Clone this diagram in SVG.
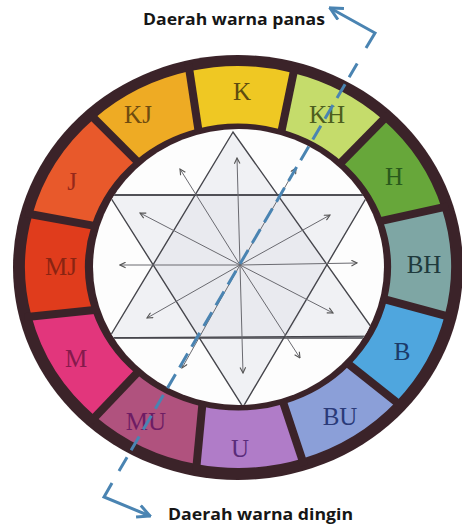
<svg xmlns="http://www.w3.org/2000/svg" width="462" height="527" viewBox="0 0 462 527">
<style>
.seg path{stroke:none}
.lbl{font-family:"Liberation Serif","DejaVu Serif",serif;font-size:25px;text-anchor:middle}
.sep line{stroke:#3b2329;stroke-width:8;stroke-linecap:butt}
.star{fill:none;stroke:#46464c;stroke-width:1.4}
.arr line{stroke:#6a6a70;stroke-width:1}
.cap{font-family:"Open Sans","Liberation Sans",sans-serif;font-weight:bold;font-size:16px;fill:#161616}
.blue{fill:none;stroke:#4a84b2;stroke-width:3}
</style>
<defs>
<clipPath id="disc"><ellipse cx="238.5" cy="267" rx="145.5" ry="138"/></clipPath>
<marker id="ah" viewBox="0 0 10 10" refX="9" refY="5" markerWidth="7" markerHeight="7" markerUnits="userSpaceOnUse" orient="auto">
<path d="M1,1 L9,5 L1,9" fill="none" stroke="#555" stroke-width="1.6"/>
</marker>
<marker id="bh" viewBox="0 0 12 12" refX="11" refY="6" markerWidth="15" markerHeight="15" markerUnits="userSpaceOnUse" orient="auto">
<path d="M1,1 L11,6 L1,11" fill="none" stroke="#4a84b2" stroke-width="2.4"/>
</marker>
</defs>
<rect width="462" height="527" fill="#ffffff"/>
<g id="ring"><ellipse cx="238" cy="267.5" rx="225" ry="212.5" fill="#3b2329"/></g>
<g id="seg-K" class="seg"><path fill="#efc823" d="M190.1,71.1 A213,201 0 0 1 293.1,72.9 L282.7,129.8 A153,143.5 0 0 0 197.1,128.7 Z"/><text class="lbl" x="242" y="100" fill="#5e4c10">K</text></g>
<g id="seg-KH" class="seg"><path fill="#c5dc6b" d="M293.1,72.9 A213,201 0 0 1 383.3,120 L342.3,162 A153,143.5 0 0 0 282.7,129.8 Z"/><text class="lbl" x="327" y="123" fill="#4d5e1e">KH</text></g>
<g id="seg-H" class="seg"><path fill="#67a73a" d="M383.3,120 A213,201 0 0 1 441.7,208.2 L382.7,220.3 A153,143.5 0 0 0 342.3,162 Z"/><text class="lbl" x="394" y="185" fill="#2a5a1c">H</text></g>
<g id="seg-BH" class="seg"><path fill="#7ea6a4" d="M441.7,208.2 A213,201 0 0 1 444.7,315.6 L387.1,299.3 A153,143.5 0 0 0 382.7,220.3 Z"/><text class="lbl" x="424" y="273" fill="#1f3a3c">BH</text></g>
<g id="seg-B" class="seg"><path fill="#4fa6de" d="M444.7,315.6 A213,201 0 0 1 396.3,401.5 L349.9,364.9 A153,143.5 0 0 0 387.1,299.3 Z"/><text class="lbl" x="402" y="360" fill="#1c3a68">B</text></g>
<g id="seg-BU" class="seg"><path fill="#8b9fd8" d="M396.3,401.5 A213,201 0 0 1 302,458.7 L284,403.9 A153,143.5 0 0 0 349.9,364.9 Z"/><text class="lbl" x="340" y="425" fill="#2a3a78">BU</text></g>
<g id="seg-U" class="seg"><path fill="#b07cc8" d="M302,458.7 A213,201 0 0 1 197.4,464.3 L201,406.2 A153,143.5 0 0 0 284,403.9 Z"/><text class="lbl" x="240" y="457" fill="#5a2c7a">U</text></g>
<g id="seg-MU" class="seg"><path fill="#b0527e" d="M197.4,464.3 A213,201 0 0 1 95.5,416.4 L135.6,373.6 A153,143.5 0 0 0 201,406.2 Z"/><text class="lbl" x="146" y="430" fill="#6e1c64">MU</text></g>
<g id="seg-M" class="seg"><path fill="#e2367c" d="M95.5,416.4 A213,201 0 0 1 31.3,315.6 L92.5,311.3 A153,143.5 0 0 0 135.6,373.6 Z"/><text class="lbl" x="76" y="367" fill="#851a4c">M</text></g>
<g id="seg-MJ" class="seg"><path fill="#e03c1c" d="M31.3,315.6 A213,201 0 0 1 32.3,215 L91.7,225 A153,143.5 0 0 0 92.5,311.3 Z"/><text class="lbl" x="61" y="275" fill="#8a2412">MJ</text></g>
<g id="seg-J" class="seg"><path fill="#e8592b" d="M32.3,215 A213,201 0 0 1 94.1,118.8 L135.6,160.4 A153,143.5 0 0 0 91.7,225 Z"/><text class="lbl" x="72" y="190" fill="#96281a">J</text></g>
<g id="seg-KJ" class="seg"><path fill="#eeab24" d="M94.1,118.8 A213,201 0 0 1 190.1,71.1 L197.1,128.7 A153,143.5 0 0 0 135.6,160.4 Z"/><text class="lbl" x="138" y="123" fill="#6e4c10">KJ</text></g>
<g id="separators" class="sep">
<line x1="199" y1="134" x2="188.5" y2="64.3"/>
<line x1="280.7" y1="135" x2="294.9" y2="66.1"/>
<line x1="337.6" y1="166.1" x2="388" y2="114.9"/>
<line x1="376" y1="222.1" x2="448.4" y2="206.2"/>
<line x1="380.3" y1="298.1" x2="451.5" y2="317.3"/>
<line x1="344.8" y1="361.1" x2="401.5" y2="406.2"/>
<line x1="281.9" y1="398.6" x2="304.2" y2="465.4"/>
<line x1="202.7" y1="400.9" x2="196" y2="471.2"/>
<line x1="140.3" y1="369.5" x2="90.8" y2="421.6"/>
<line x1="99.1" y1="309.6" x2="24.5" y2="317.3"/>
<line x1="98.4" y1="226.6" x2="25.5" y2="213.2"/>
<line x1="140.3" y1="164.5" x2="89.4" y2="113.6"/>
</g>
<g id="hub">
<ellipse cx="238.5" cy="267" rx="145.5" ry="138" fill="#fdfdfd"/>
<g clip-path="url(#disc)">
<polygon points="233,132 109,338 379,338" fill="#f0f1f4"/>
<polygon points="109,195 368,195 243,407" fill="#f0f1f4"/>
<polygon points="195,195 280,195 327,265 287,337 200,338 153,265" fill="#e9eaef"/>
<polygon class="star" points="233,132 109,338 379,338"/>
<polygon class="star" points="109,195 368,195 243,407"/>
<line class="star" x1="80" y1="195" x2="400" y2="195"/>
<line class="star" x1="80" y1="338" x2="400" y2="336"/>
</g>
<g class="arr">
<line x1="240" y1="265" x2="237" y2="158" marker-end="url(#ah)"/>
<line x1="240" y1="265" x2="296" y2="168" marker-end="url(#ah)"/>
<line x1="240" y1="265" x2="330" y2="215" marker-end="url(#ah)"/>
<line x1="240" y1="265" x2="357" y2="263" marker-end="url(#ah)"/>
<line x1="240" y1="265" x2="333" y2="313" marker-end="url(#ah)"/>
<line x1="240" y1="265" x2="300" y2="358" marker-end="url(#ah)"/>
<line x1="240" y1="265" x2="243" y2="373" marker-end="url(#ah)"/>
<line x1="240" y1="265" x2="182" y2="368" marker-end="url(#ah)"/>
<line x1="240" y1="265" x2="147" y2="318" marker-end="url(#ah)"/>
<line x1="240" y1="265" x2="120" y2="265" marker-end="url(#ah)"/>
<line x1="240" y1="265" x2="140" y2="213" marker-end="url(#ah)"/>
<line x1="240" y1="265" x2="180" y2="169" marker-end="url(#ah)"/>
</g>
</g>
<g id="connectors">
<path class="blue" d="M119,471 L361,57" stroke-dasharray="16 8"/>
<path class="blue" d="M366,48 L375,33 L330,8" marker-end="url(#bh)"/>
<path class="blue" d="M112,483 L104,497 L150,516" marker-end="url(#bh)"/>
</g>
<g id="label-panas"><text class="cap" x="143" y="25" textLength="182" lengthAdjust="spacingAndGlyphs">Daerah warna panas</text></g>
<g id="label-dingin"><text class="cap" x="168" y="520" textLength="185" lengthAdjust="spacingAndGlyphs">Daerah warna dingin</text></g>
</svg>
